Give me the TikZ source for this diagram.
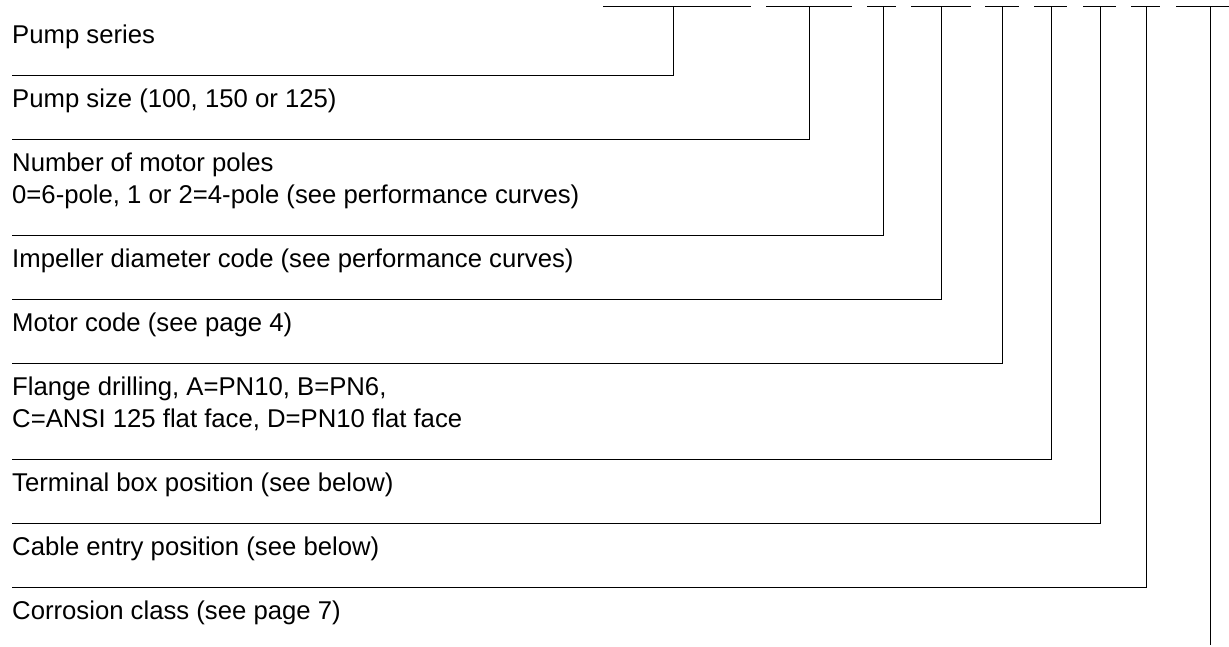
\documentclass[tikz,border=0pt]{standalone}
\usepackage{fontspec}
\setmainfont{Liberation Sans}
\tikzset{
  lbl/.style ={anchor=base west, inner sep=0pt, align=left,
               font=\fontsize{25.7}{31.7}\selectfont},
  rule/.style={line width=1pt},
  bar/.style ={line width=1pt},
}
\begin{document}
\begin{tikzpicture}[x=1pt,y=-1pt]
    \useasboundingbox (0,0) rectangle (1229,646);
    % code positions along the top
    \draw[bar] (603,6) -- (751,6);    \coordinate (c1) at (673,6);
    \draw[bar] (766,6) -- (852,6);    \coordinate (c2) at (809,6);
    \draw[bar] (867,6) -- (896,6);    \coordinate (c3) at (883,6);
    \draw[bar] (911,6) -- (971,6);    \coordinate (c4) at (941,6);
    \draw[bar] (985,6) -- (1019,6);   \coordinate (c5) at (1002,6);
    \draw[bar] (1034,6) -- (1067,6);  \coordinate (c6) at (1051,6);
    \draw[bar] (1083,6) -- (1116,6);  \coordinate (c7) at (1100,6);
    \draw[bar] (1131,6) -- (1160,6);  \coordinate (c8) at (1146,6);
    \draw[bar] (1176,6) -- (1229,6);  \coordinate (c9) at (1210,6);
    % descriptions (two-line ones sit on their last baseline)
    \node[lbl] (ser)    at (12,43.5) {Pump series};
    \node[lbl] (size)   at (12,107.5){Pump size (100, 150 or 125)};
    \node[lbl] (poles)  at (12,203.5){Number of motor poles\\0=6-pole, 1 or 2=4-pole (see performance curves)};
    \node[lbl] (imp)    at (12,267.5){Impeller diameter code (see performance curves)};
    \node[lbl] (motor)  at (12,331.5){Motor code (see page 4)};
    \node[lbl] (flange) at (12,427.5){Flange drilling, A=PN10, B=PN6,\\C=ANSI 125 flat face, D=PN10 flat face};
    \node[lbl] (tbox)   at (12,491.5){Terminal box position (see below)};
    \node[lbl] (cable)  at (12,555.5){Cable entry position (see below)};
    \node[lbl] (corr)   at (12,619.5){Corrosion class (see page 7)};
    % leader lines
    \coordinate (l1) at (12,75);   \coordinate (l2) at (12,139);
    \coordinate (l3) at (12,235);  \coordinate (l4) at (12,299);
    \coordinate (l5) at (12,363);  \coordinate (l6) at (12,459);
    \coordinate (l7) at (12,523);  \coordinate (l8) at (12,587);
    \coordinate (l9) at (1210,645);
    \draw[rule] (l1) -| (c1);   \draw[rule] (l2) -| (c2);
    \draw[rule] (l3) -| (c3);   \draw[rule] (l4) -| (c4);
    \draw[rule] (l5) -| (c5);   \draw[rule] (l6) -| (c6);
    \draw[rule] (l7) -| (c7);   \draw[rule] (l8) -| (c8);
    \draw[rule] (l9) -- (c9);
  \end{tikzpicture}
\end{document}
